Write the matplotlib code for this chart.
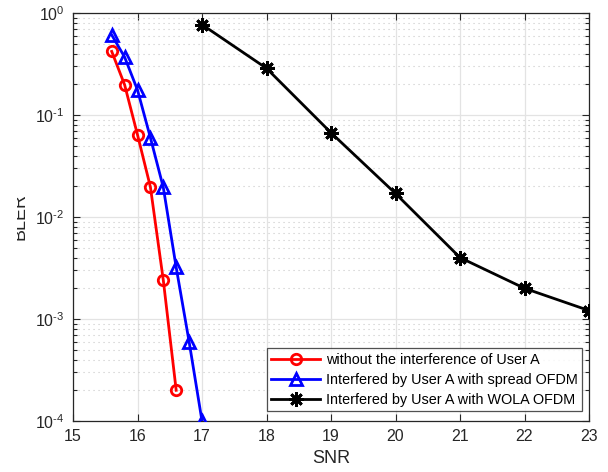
import matplotlib
matplotlib.use("Agg")
import matplotlib.pyplot as plt
from matplotlib.ticker import LogLocator, FixedLocator, NullFormatter, FuncFormatter
from matplotlib.transforms import Bbox
import numpy as np

plt.rcParams["font.family"] = ["Liberation Sans", "DejaVu Sans"]
plt.rcParams["mathtext.fontset"] = "custom"
plt.rcParams["mathtext.rm"] = "Liberation Sans"
plt.rcParams["mathtext.it"] = "Liberation Sans:italic"
plt.rcParams["mathtext.bf"] = "Liberation Sans:bold"

# BLER vs SNR for the three interference scenarios
snr_clean = [15.6, 15.8, 16.0, 16.2, 16.4, 16.6]
bler_clean = [0.42, 0.198, 0.064, 0.0197, 0.0024, 0.0002]

snr_spread = [15.6, 15.8, 16.0, 16.2, 16.4, 16.6, 16.8, 17.0]
bler_spread = [0.61, 0.37, 0.176, 0.060, 0.0195, 0.0032, 0.0006, 0.0001]

snr_wola = [17, 18, 19, 20, 21, 22, 23]
bler_wola = [0.77, 0.287, 0.067, 0.017, 0.0040, 0.0020, 0.00121]

labels = [
    "without the interference of User A",
    "Interfered by User A with spread OFDM",
    "Interfered by User A with WOLA OFDM",
]
x_ticks = [15, 16, 17, 18, 19, 20, 21, 22, 23]

dark = "#262626"


def pow10_label(v, pos):
    e = int(round(np.log10(v)))
    return r"$10^{\text{%d}}$" % e


fig = plt.figure(figsize=(6.08, 4.72), dpi=100)
ax = fig.add_axes([73 / 608, 51 / 472, 516 / 608, 408 / 472])

ax.semilogy(snr_clean, bler_clean, color="#ff0000", lw=2, marker="o",
            ms=7.5, mfc="none", mew=2, label=labels[0], zorder=3)
ax.semilogy(snr_spread, bler_spread, color="#0000ff", lw=2, marker="^",
            ms=9, mfc="none", mew=2, label=labels[1], zorder=3)
ax.semilogy(snr_wola, bler_wola, color="black", lw=2, marker=(8, 2, 0),
            ms=10.5, mew=2, label=labels[2], zorder=3)

ax.set_xlim(15, 23)
ax.set_ylim(1e-4, 1)
ax.xaxis.set_major_locator(FixedLocator(x_ticks))
ax.yaxis.set_major_locator(LogLocator(base=10, numticks=10))
ax.yaxis.set_minor_locator(LogLocator(base=10, subs=range(2, 10), numticks=20))
ax.yaxis.set_major_formatter(FuncFormatter(pow10_label))
ax.yaxis.set_minor_formatter(NullFormatter())

ax.grid(True, which="major", color="#e3e3e3", lw=0.9, ls="-", zorder=0)
ax.grid(True, which="minor", axis="y", color="#c8c8c8", lw=0.8, ls=(0, (1, 3.5)), zorder=0)
ax.set_axisbelow(True)

for s in ax.spines.values():
    s.set_color(dark)
    s.set_linewidth(0.9)
ax.tick_params(which="both", direction="in", top=True, right=True, colors=dark,
               labelcolor=dark, labelsize=11.5, width=0.8)
ax.tick_params(which="major", length=5, pad=6)
ax.tick_params(which="minor", length=3)

ax.set_xlabel("SNR", fontsize=13, color=dark, labelpad=4)
ylab = ax.set_ylabel("BLER", fontsize=13, color=dark)
ax.yaxis.set_label_coords(-45 / 516, 0.5)
ylab.set_clip_box(Bbox.from_extents(17, 0, 608, 472))
ylab.set_clip_on(True)

leg = ax.legend(loc="lower right", bbox_to_anchor=(509 / 516, 10 / 408),
                fontsize=10.35, handlelength=3.4,
                frameon=True, fancybox=False, borderaxespad=0,
                borderpad=0.3, labelspacing=0.42, handletextpad=0.4)
leg.get_frame().set_edgecolor(dark)
leg.get_frame().set_linewidth(0.9)
for t in leg.get_texts():
    t.set_color("black")

fig.savefig("out.png", dpi=100)
